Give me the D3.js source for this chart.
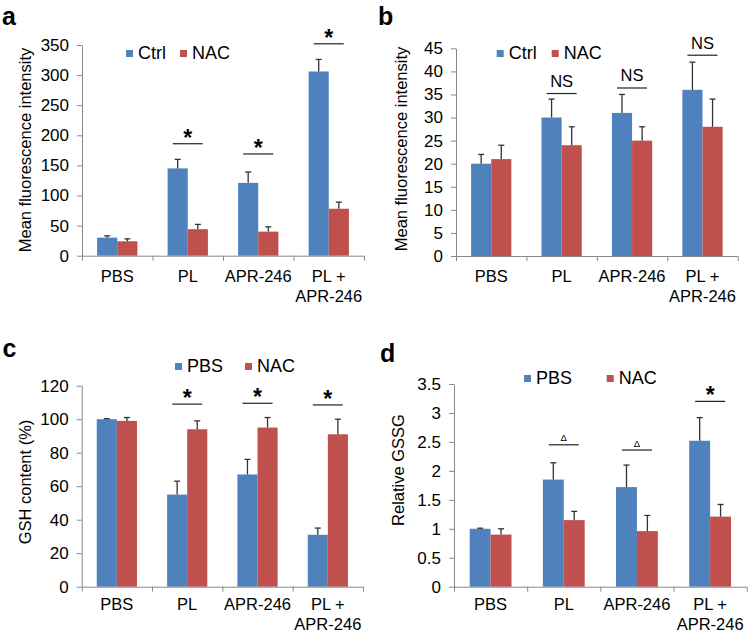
<!DOCTYPE html>
<html>
<head>
<meta charset="utf-8">
<script src="https://cdn.jsdelivr.net/npm/d3@7"></script>
<style>
body { margin: 0; background: #fff; }
svg { font-family: "Liberation Sans", Arial, sans-serif; }
</style>
</head>
<body>
<svg id="fig" width="750" height="634"></svg>
<script>
// categories shared by the four panels
const categories = ["PBS", "PL", "APR-246", "PL + APR-246"];
const categoryLines = [["PBS"], ["PL"], ["APR-246"], ["PL +", "APR-246"]];

// panel a - mean fluorescence intensity
const aSeries = ["Ctrl", "NAC"];
const aCtrl = [30, 145, 121, 306];
const aCtrlErr = [3, 15, 18, 20];
const aNac = [24, 44, 40, 78];
const aNacErr = [4, 8, 8, 11];
const aTicks = [0, 50, 100, 150, 200, 250, 300, 350];
const aSig = ["", "*", "*", "*"];
const aSigLevel = [0, 186, 169, 352];

// panel b - mean fluorescence intensity
const bSeries = ["Ctrl", "NAC"];
const bCtrl = [20, 30, 31, 36];
const bCtrlErr = [2, 4, 4, 6];
const bNac = [21, 24, 25, 28];
const bNacErr = [3, 4, 3, 6];
const bTicks = [0, 5, 10, 15, 20, 25, 30, 35, 40, 45];
const bSig = ["", "NS", "NS", "NS"];
const bSigLevel = [0, 35.2, 36.4, 43.5];

// panel c - GSH content (%)
const cSeries = ["PBS", "NAC"];
const cPbs = [100, 55, 67, 31];
const cPbsErr = [0.3, 8, 9, 4];
const cNac = [99, 94, 95, 91];
const cNacErr = [2, 5, 6, 9];
const cTicks = [0, 20, 40, 60, 80, 100, 120];
const cSig = ["", "*", "*", "*"];
const cSigLevel = [0, 109, 109.5, 108.5];

// panel d - relative GSSG
const dSeries = ["PBS", "NAC"];
const dPbs = [1.0, 1.85, 1.72, 2.52];
const dPbsErr = [0.01, 0.29, 0.38, 0.4];
const dNac = [0.9, 1.15, 0.96, 1.21];
const dNacErr = [0.1, 0.15, 0.27, 0.21];
const dTicks = [0, 0.5, 1, 1.5, 2, 2.5, 3, 3.5];
const dSig = ["", "\u0394", "\u0394", "*"];
const dSigLevel = [0, 2.45, 2.36, 3.2];

const colors = ["#4F81BD", "#C0504D"];
const axisColor = "#888";
const inkColor = "#333";

const svg = d3.select("#fig");

function drawPanel(p) {
    const g = svg.append("g");

    const x = d3.scaleBand()
        .domain(categories)
        .range([p.left, p.right])
        .padding(0);

    const xSub = d3.scaleBand()
        .domain(p.series)
        .range([0, x.bandwidth()])
        .paddingInner(0)
        .paddingOuter(0.75);

    const y = d3.scaleLinear()
        .domain([0, p.max])
        .range([p.bottom, p.top]);

    // panel letter
    g.append("text")
        .attr("x", p.letterX)
        .attr("y", p.letterY)
        .attr("font-size", "25px")
        .attr("font-weight", "bold")
        .text(p.letter);

    // bars
    const rows = [];
    categories.forEach((c, i) => {
        p.series.forEach((s, j) => {
            rows.push({ cat: c, ser: s, j: j, v: p.values[j][i], e: p.errs[j][i] });
        });
    });

    g.selectAll("rect.bar")
        .data(rows)
        .enter()
        .append("rect")
        .attr("class", "bar")
        .attr("x", d => x(d.cat) + xSub(d.ser))
        .attr("y", d => y(d.v))
        .attr("width", xSub.bandwidth())
        .attr("height", d => y(0) - y(d.v))
        .attr("fill", d => colors[d.j]);

    // error bars (upper only)
    const eb = g.selectAll("g.err")
        .data(rows)
        .enter()
        .append("g")
        .attr("class", "err")
        .attr("stroke", inkColor)
        .attr("stroke-width", 1.3);

    eb.append("line")
        .attr("x1", d => x(d.cat) + xSub(d.ser) + xSub.bandwidth() / 2)
        .attr("x2", d => x(d.cat) + xSub(d.ser) + xSub.bandwidth() / 2)
        .attr("y1", d => y(d.v))
        .attr("y2", d => y(d.v + d.e));

    eb.append("line")
        .attr("x1", d => x(d.cat) + xSub(d.ser) + xSub.bandwidth() / 2 - 3)
        .attr("x2", d => x(d.cat) + xSub(d.ser) + xSub.bandwidth() / 2 + 3)
        .attr("y1", d => y(d.v + d.e))
        .attr("y2", d => y(d.v + d.e));

    // y axis
    const yAxis = g.append("g")
        .attr("transform", `translate(${p.left},0)`)
        .call(d3.axisLeft(y)
            .tickValues(p.ticks)
            .tickFormat(d => String(d))
            .tickSize(5)
            .tickSizeOuter(0)
            .tickPadding(8));
    yAxis.select(".domain").attr("stroke", axisColor);
    yAxis.selectAll(".tick line").attr("stroke", axisColor);
    yAxis.selectAll(".tick text")
        .attr("fill", "#000")
        .attr("font-size", "17px")
        .attr("font-family", null);

    // x axis with ticks on band boundaries
    g.append("line")
        .attr("x1", p.left)
        .attr("x2", p.right)
        .attr("y1", y(0) + 0.5)
        .attr("y2", y(0) + 0.5)
        .attr("stroke", axisColor);

    const bounds = categories.map(c => x(c)).concat([p.right]);
    g.selectAll("line.xtick")
        .data(bounds)
        .enter()
        .append("line")
        .attr("class", "xtick")
        .attr("x1", d => d + 0.5)
        .attr("x2", d => d + 0.5)
        .attr("y1", y(0))
        .attr("y2", y(0) + 5)
        .attr("stroke", axisColor);

    // category labels
    const labels = g.selectAll("text.cat")
        .data(categories)
        .enter()
        .append("text")
        .attr("class", "cat")
        .attr("text-anchor", "middle")
        .attr("font-size", "16.5px");
    labels.each(function (c, i) {
        categoryLines[i].forEach((line, k) => {
            d3.select(this).append("tspan")
                .attr("x", x(c) + x.bandwidth() / 2)
                .attr("y", y(0) + p.labelOffsets[k])
                .text(line);
        });
    });

    // y axis title
    g.append("text")
        .attr("transform", `translate(${p.titleX},${p.titleY}) rotate(-90)`)
        .attr("text-anchor", "middle")
        .attr("font-size", "16.5px")
        .text(p.title);

    // legend
    p.series.forEach((s, j) => {
        g.append("rect")
            .attr("x", p.legendX[j])
            .attr("y", p.legendY - 7)
            .attr("width", 7)
            .attr("height", 7)
            .attr("fill", colors[j]);
        g.append("text")
            .attr("x", p.legendX[j] + 12)
            .attr("y", p.legendY + 2)
            .attr("font-size", "18px")
            .text(s);
    });

    // significance marks
    categories.forEach((c, i) => {
        if (!p.sig[i]) return;
        const cx = x(c) + x.bandwidth() / 2;
        const ly = y(p.sigLevel[i]);
        g.append("line")
            .attr("x1", cx - 15)
            .attr("x2", cx + 15)
            .attr("y1", ly)
            .attr("y2", ly)
            .attr("stroke", "#222")
            .attr("stroke-width", 1.2);
        const t = g.append("text")
            .attr("x", cx)
            .attr("text-anchor", "middle")
            .text(p.sig[i]);
        if (p.sig[i] === "*") {
            t.attr("y", ly + 2).attr("font-size", "23px").attr("font-weight", "bold");
        } else if (p.sig[i] === "NS") {
            t.attr("y", ly - 6.5).attr("font-size", "16.5px");
        } else {
            t.attr("y", ly - 3.5).attr("font-size", "9.5px");
        }
    });
}

drawPanel({
    letter: "a", letterX: 2, letterY: 25,
    left: 82, right: 364, top: 45, bottom: 255.7, max: 350, ticks: aTicks,
    series: aSeries, values: [aCtrl, aNac], errs: [aCtrlErr, aNacErr],
    sig: aSig, sigLevel: aSigLevel,
    title: "Mean fluorescence intensity", titleX: 30.7, titleY: 150,
    legendX: [126, 180], legendY: 57, labelOffsets: [26, 46]
});

drawPanel({
    letter: "b", letterX: 378, letterY: 25,
    left: 456, right: 737.7, top: 48.3, bottom: 256, max: 45, ticks: bTicks,
    series: bSeries, values: [bCtrl, bNac], errs: [bCtrlErr, bNacErr],
    sig: bSig, sigLevel: bSigLevel,
    title: "Mean fluorescence intensity", titleX: 407.4, titleY: 149,
    legendX: [496.7, 551.7], legendY: 57, labelOffsets: [26, 46]
});

drawPanel({
    letter: "c", letterX: 2.5, letterY: 357,
    left: 81.7, right: 363, top: 385.7, bottom: 586.7, max: 120, ticks: cTicks,
    series: cSeries, values: [cPbs, cNac], errs: [cPbsErr, cNacErr],
    sig: cSig, sigLevel: cSigLevel,
    title: "GSH content (%)", titleX: 30.7, titleY: 482,
    legendX: [175, 245], legendY: 370, labelOffsets: [23.5, 43.5]
});

drawPanel({
    letter: "d", letterX: 380, letterY: 361.7,
    left: 454, right: 746.7, top: 384, bottom: 586.7, max: 3.5, ticks: dTicks,
    series: dSeries, values: [dPbs, dNac], errs: [dPbsErr, dNacErr],
    sig: dSig, sigLevel: dSigLevel,
    title: "Relative GSSG", titleX: 404, titleY: 470,
    legendX: [524, 606.7], legendY: 382, labelOffsets: [23.5, 43.5]
});
</script>
</body>
</html>
